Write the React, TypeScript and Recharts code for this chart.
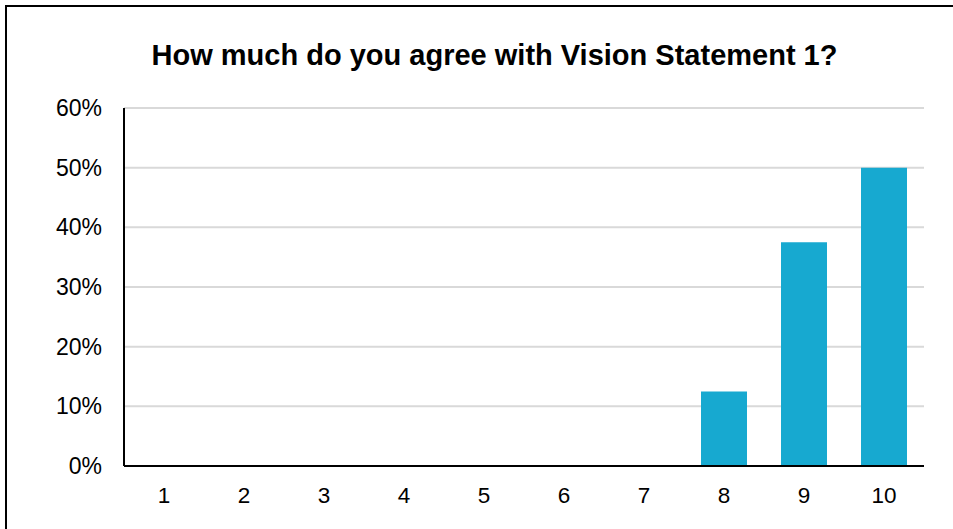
import { BarChart, Bar, XAxis, YAxis, CartesianGrid } from "recharts";

const categories = ["1", "2", "3", "4", "5", "6", "7", "8", "9", "10"];
const shares = [0, 0, 0, 0, 0, 0, 0, 0.125, 0.375, 0.5];
const yTicks = [0, 0.1, 0.2, 0.3, 0.4, 0.5, 0.6];

const chartData = categories.map((score, i) => ({ score, share: shares[i] }));

const font = "Arial, 'Liberation Sans', sans-serif";

export default function App() {
  return (
    <div
      style={{
        position: "fixed",
        left: 0,
        top: 0,
        width: 953,
        height: 529,
        overflow: "hidden",
        background: "#fff",
      }}
    >
      <div
        style={{
          position: "absolute",
          left: 5,
          top: 5,
          width: 1000,
          height: 600,
          border: "2px solid #000",
        }}
      />
      <div
        style={{
          position: "absolute",
          left: 0,
          top: 38,
          width: 989,
          textAlign: "center",
          fontFamily: font,
          fontWeight: "bold",
          fontSize: 29,
          lineHeight: "34px",
          color: "#000",
        }}
      >
        How much do you agree with Vision Statement 1?
      </div>
      <div style={{ position: "absolute", left: 0, top: 0 }}>
        <BarChart
          width={953}
          height={529}
          data={chartData}
          margin={{ top: 108, right: 29, left: 64, bottom: 33 }}
          barSize={46}
        >
          <CartesianGrid
            vertical={false}
            stroke="#d9d9d9"
            strokeWidth={2}
          />
          <XAxis
            dataKey="score"
            height={30}
            axisLine={{ stroke: "#000", strokeWidth: 2 }}
            tickLine={false}
            tickMargin={15}
            tick={{ fill: "#000", fontSize: 22.5, fontFamily: font }}
          />
          <YAxis
            width={60}
            domain={[0, 0.6]}
            ticks={yTicks}
            tickFormatter={(v: number) => `${Math.round(v * 100)}%`}
            axisLine={{ stroke: "#000", strokeWidth: 2 }}
            tickLine={false}
            tickMargin={16}
            tick={{ fill: "#000", fontSize: 23, fontFamily: font }}
          />
          <Bar dataKey="share" fill="#17a9d0" isAnimationActive={false} />
        </BarChart>
      </div>
    </div>
  );
}
